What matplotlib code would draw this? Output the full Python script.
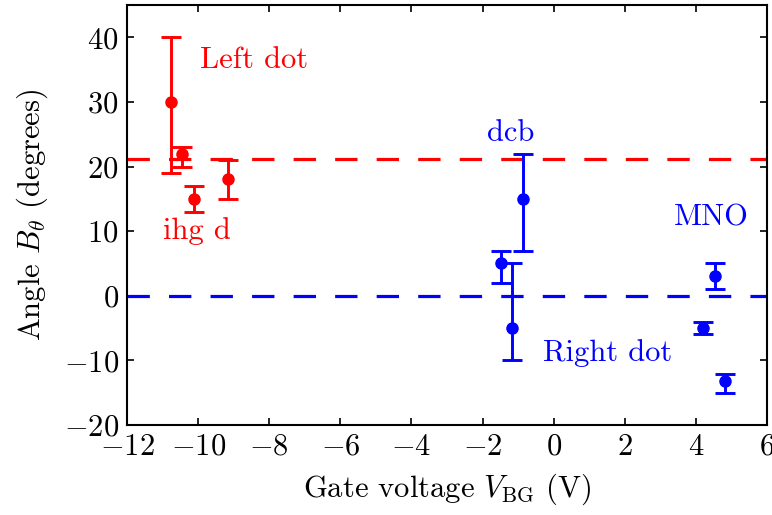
import numpy as np
import matplotlib
matplotlib.use('Agg')
import matplotlib.pyplot as plt

plt.rcParams['font.family'] = 'serif'
plt.rcParams['font.serif'] = ['cmr10', 'DejaVu Serif']
plt.rcParams['mathtext.fontset'] = 'cm'
plt.rcParams['axes.formatter.use_mathtext'] = True
plt.rcParams['axes.unicode_minus'] = True

# left dot data
left_x = [-10.76, -10.45, -10.12, -9.15]
left_y = [30, 22, 15, 18]
left_lo = [11, 2, 2, 3]
left_hi = [10, 1, 2, 3]

# right dot data
right_x = [-1.48, -1.18, -0.85, 4.54, 4.21, 4.83]
right_y = [5, -5, 15, 3, -5, -13.2]
right_lo = [3, 5, 8, 2, 1, 1.8]
right_hi = [2, 10, 7, 2, 1, 1.1]

left_ref = 21.2
right_ref = 0

fs = 22

fig = plt.figure(figsize=(7.72, 5.15), dpi=100)
ax = fig.add_axes([0.1645, 0.175, 0.829, 0.815])

ax.axhline(left_ref, color='#ff0000', lw=2.3, dashes=(7, 6))
ax.axhline(right_ref, color='#0000ff', lw=2.3, dashes=(7, 6))

ax.errorbar(left_x, left_y, yerr=[left_lo, left_hi], fmt='o', color='#ff0000',
            ms=8, elinewidth=2.1, capsize=7.5, capthick=2.1)
ax.errorbar(right_x, right_y, yerr=[right_lo, right_hi], fmt='o', color='#0000ff',
            ms=8, elinewidth=2.1, capsize=7.5, capthick=2.1)

ax.text(-9.95, 36.4, 'Left dot', color='#ff0000', fontsize=fs, va='center')
ax.text(-11.0, 10.0, 'ihg d', color='#ff0000', fontsize=fs, va='center')
ax.text(-1.88, 25.1, 'dcb', color='#0000ff', fontsize=fs, va='center')
ax.text(3.38, 12.1, 'MNO', color='#0000ff', fontsize=fs, va='center')
ax.text(-0.3, -8.9, 'Right dot', color='#0000ff', fontsize=fs, va='center')

ax.set_xlim(-12, 6)
ax.set_ylim(-20, 45)
ax.set_xticks(np.arange(-12, 7, 2))
ax.set_yticks(np.arange(-20, 41, 10))
ax.tick_params(direction='in', top=True, right=True, length=5, width=1.2, labelsize=fs, pad=6)
for s in ax.spines.values():
    s.set_linewidth(1.5)

ax.set_xlabel(r'Gate voltage $V_\mathrm{BG}$ (V)', fontsize=fs, labelpad=8)
ax.set_ylabel(r'Angle $B_\theta$ (degrees)', fontsize=fs, labelpad=10)

fig.savefig('out.png', dpi=100)
